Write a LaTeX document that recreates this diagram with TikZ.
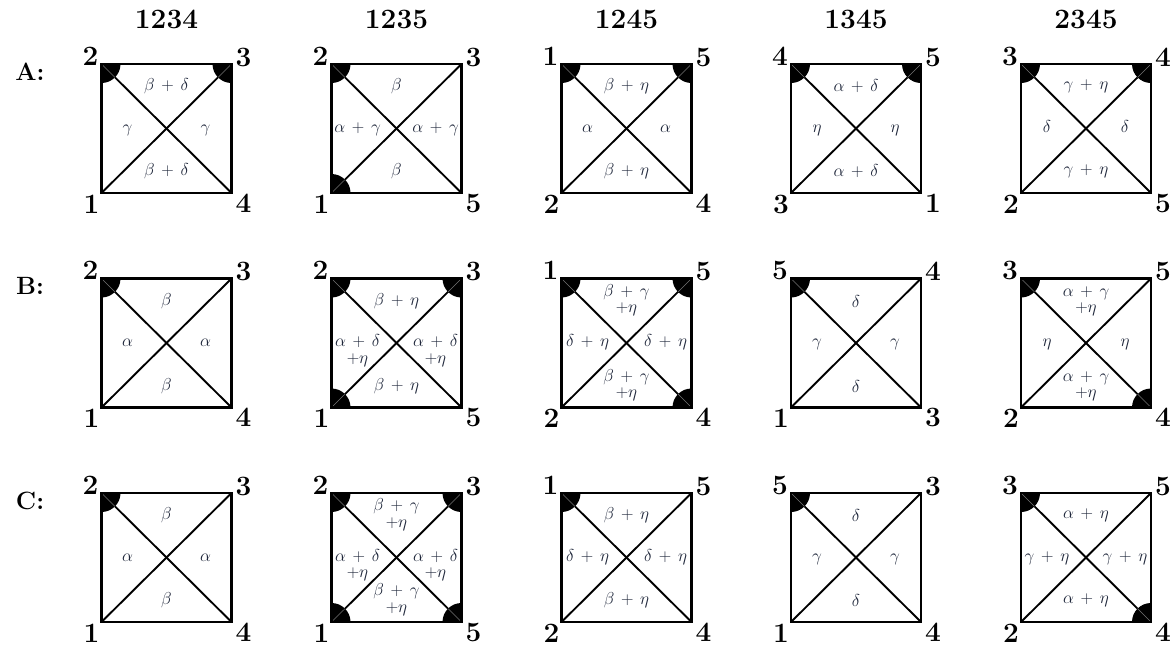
\documentclass[tikz,border=0pt]{standalone}
\usetikzlibrary{calc}
\definecolor{lblc}{RGB}{30,38,58}
\newcommand\tw[2]{\begin{tabular}[t]{@{}c@{}}#1\\#2\end{tabular}}
\newcommand\pp{\mskip 3mu+\mskip 3mu}
\newcommand\wdg[2]{%
  \begin{scope}
    \clip (#1-tl) rectangle (#1-br);
    \fill (#1-#2) circle[radius=19];
  \end{scope}
  \draw[seam] (#1-#2) -- ($(#1-#2)!19pt!(#1-c)$);
}
% name, x, y(top), TL, TR, BL, BR, wedges
\newcommand\sq[8]{%
  \coordinate (#1-tl) at (#2,#3);
  \coordinate (#1-tr) at (#2+130,#3);
  \coordinate (#1-bl) at (#2,#3+129);
  \coordinate (#1-br) at (#2+130,#3+129);
  \coordinate (#1-c) at (#2+65,#3+64.5);
  \draw[diag] (#1-tl) -- (#1-br);
  \draw[diag] (#1-bl) -- (#1-tr);
  \foreach \w in {#8} {\wdg{#1}{\w}}
  \draw[frame] (#1-tl) rectangle (#1-br);
  \node[cnum] (#1-ntl) at ($(#1-tl)+(-11,-8)$) {#4};
  \node[cnum] (#1-ntr) at ($(#1-tr)+(12,-7)$) {#5};
  \node[cnum] (#1-nbl) at ($(#1-bl)+(-10,11)$) {#6};
  \node[cnum] (#1-nbr) at ($(#1-br)+(12,10)$) {#7};
}
% name, top, left, right, bottom
\newcommand\labs[5]{%
  \node[lbl] (#1-lt) at ($(#1-c)+(0,-42)$) {#2};
  \node[lbl,anchor=base] (#1-ll) at ($(#1-c)+(-39,3.5)$) {#3};
  \node[lbl,anchor=base] (#1-lr) at ($(#1-c)+(39,3.5)$) {#4};
  \node[lbl] (#1-lb) at ($(#1-c)+(0,43)$) {#5};
}
\begin{document}
\begin{tikzpicture}[x=1pt,y=-1pt,
  frame/.style={line width=2.8pt, line join=miter},
  diag/.style={line width=1.9pt},
  seam/.style={line width=0.5pt, black!55},
  cnum/.style={font=\fontsize{28}{32}\selectfont\bfseries, inner sep=0pt},
  head/.style={font=\fontsize{28}{32}\selectfont\bfseries, inner sep=0pt},
  rowl/.style={font=\fontsize{25}{29}\selectfont\bfseries, inner sep=0pt},
  lbl/.style={font=\fontsize{16.5}{16.5}\selectfont, text=lblc, inner sep=0pt, align=center}]
\fill[white] (0,0) rectangle (1173,646);
\useasboundingbox (0,0) rectangle (1173,646);

% headers
\node[head] (h1) at (166.5,19) {1234};
\node[head] (h2) at (396.5,19) {1235};
\node[head] (h3) at (626.5,19) {1245};
\node[head] (h4) at (856,19) {1345};
\node[head] (h5) at (1086,19) {2345};
% row labels
\node[rowl] (rA) at (30,71.5) {A:};
\node[rowl] (rB) at (30,286) {B:};
\node[rowl] (rC) at (30,500.5) {C:};

% Row A
\sq{a1}{101.5}{64}{2}{3}{1}{4}{tl,tr}
\labs{a1}{$\beta\pp\delta$}{$\gamma$}{$\gamma$}{$\beta\pp\delta$}
\sq{a2}{331.5}{64}{2}{3}{1}{5}{tl,bl}
\labs{a2}{$\beta$}{$\alpha\pp\gamma$}{$\alpha\pp\gamma$}{$\beta$}
\sq{a3}{561.5}{64}{1}{5}{2}{4}{tl,tr}
\labs{a3}{$\beta\pp\eta$}{$\alpha$}{$\alpha$}{$\beta\pp\eta$}
\sq{a4}{791}{64}{4}{5}{3}{1}{tl,tr}
\labs{a4}{$\alpha\pp\delta$}{$\eta$}{$\eta$}{$\alpha\pp\delta$}
\sq{a5}{1021}{64}{3}{4}{2}{5}{tl,tr}
\labs{a5}{$\gamma\pp\eta$}{$\delta$}{$\delta$}{$\gamma\pp\eta$}

% Row B
\sq{b1}{101.5}{278.5}{2}{3}{1}{4}{tl}
\labs{b1}{$\beta$}{$\alpha$}{$\alpha$}{$\beta$}
\sq{b2}{331.5}{278.5}{2}{3}{1}{5}{tl,tr,bl}
\labs{b2}{$\beta\pp\eta$}{\tw{$\alpha\pp\delta$}{$+\eta$}}{\tw{$\alpha\pp\delta$}{$+\eta$}}{$\beta\pp\eta$}
\sq{b3}{561.5}{278.5}{1}{5}{2}{4}{tl,tr,br}
\labs{b3}{\tw{$\beta\pp\gamma$}{$+\eta$}}{$\delta\pp\eta$}{$\delta\pp\eta$}{\tw{$\beta\pp\gamma$}{$+\eta$}}
\sq{b4}{791}{278.5}{5}{4}{1}{3}{tl}
\labs{b4}{$\delta$}{$\gamma$}{$\gamma$}{$\delta$}
\sq{b5}{1021}{278.5}{3}{5}{2}{4}{tl,br}
\labs{b5}{\tw{$\alpha\pp\gamma$}{$+\eta$}}{$\eta$}{$\eta$}{\tw{$\alpha\pp\gamma$}{$+\eta$}}

% Row C
\sq{c1}{101.5}{493}{2}{3}{1}{4}{tl}
\labs{c1}{$\beta$}{$\alpha$}{$\alpha$}{$\beta$}
\sq{c2}{331.5}{493}{2}{3}{1}{5}{tl,tr,bl,br}
\labs{c2}{\tw{$\beta\pp\gamma$}{$+\eta$}}{\tw{$\alpha\pp\delta$}{$+\eta$}}{\tw{$\alpha\pp\delta$}{$+\eta$}}{\tw{$\beta\pp\gamma$}{$+\eta$}}
\sq{c3}{561.5}{493}{1}{5}{2}{4}{tl}
\labs{c3}{$\beta\pp\eta$}{$\delta\pp\eta$}{$\delta\pp\eta$}{$\beta\pp\eta$}
\sq{c4}{791}{493}{5}{3}{1}{4}{tl}
\labs{c4}{$\delta$}{$\gamma$}{$\gamma$}{$\delta$}
\sq{c5}{1021}{493}{3}{5}{2}{4}{tl,br}
\labs{c5}{$\alpha\pp\eta$}{$\gamma\pp\eta$}{$\gamma\pp\eta$}{$\alpha\pp\eta$}
\end{tikzpicture}
\end{document}
